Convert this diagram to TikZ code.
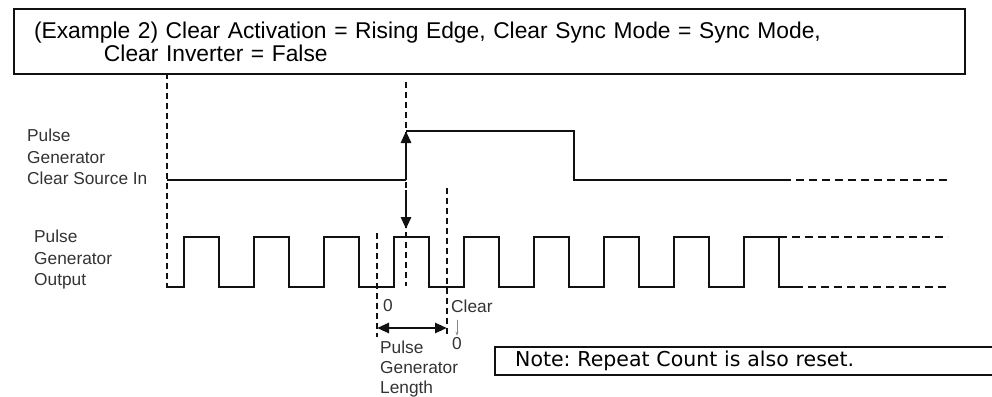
\documentclass[tikz,border=0pt]{standalone}
\usepackage{fontspec}
\setmainfont{Liberation Sans}
\newfontfamily\notefont{DejaVu Sans}
\usetikzlibrary{arrows.meta}
\definecolor{labelcol}{HTML}{333333}
\definecolor{inkcol}{HTML}{111111}
\frenchspacing

\begin{document}
\begin{tikzpicture}[
  x=1pt, y=-1pt,
  wave/.style={line width=2.8pt, draw=inkcol},
  guide/.style={dash pattern=on 6pt off 4pt, line width=2pt, draw=inkcol},
  cont/.style={dash pattern=on 8pt off 5pt, line width=2.5pt, draw=inkcol},
  arr/.style={-{Triangle[length=12pt,width=10pt]}, line width=2.8pt, draw=inkcol},
  dbl/.style={{Triangle[length=12pt,width=10pt]}-{Triangle[length=12pt,width=10pt]},
              line width=2.5pt, draw=inkcol},
  sig/.style={font=\fontsize{17.3}{21.5}\selectfont, text=labelcol, align=left,
              inner sep=0pt},
  titlebox/.style={draw=inkcol, line width=2pt, minimum width=951pt,
              minimum height=65pt, text width=911pt, inner xsep=20pt, align=left,
              font=\fontsize{22.8}{23}\selectfont},
  notebox/.style={draw=inkcol, line width=2.4pt, minimum height=28pt,
              text width=480pt, inner xsep=20pt, align=left,
              font=\notefont\fontsize{20.5}{22}\selectfont},
]
\useasboundingbox (0,0) rectangle (992,396);

% ------------------------------------------------------------- title
\node[titlebox, anchor=north west] (title) at (13,8)
  {(Example 2) Clear Activation = Rising Edge, Clear Sync Mode = Sync Mode,\\
   \hspace*{70pt}Clear Inverter = False};

% ------------------------------------------------------------- signal names
\node[sig, anchor=west] (clrin) at (27,157)
  {Pulse\\Generator\\Clear Source In};
\node[sig, anchor=west] (pgout) at (34,260)
  {Pulse\\Generator\\Output};

% ------------------------------------------------------------- guides
\draw[guide] (167,73)  -- (167,288);
\draw[guide, line width=1.4pt] (406,82) -- (406,286);
\draw[guide] (377,233) -- (377,337);
\draw[guide] (447,188) -- (447,337);

% ------------------------------------------------------------- clear source in
\coordinate (edgelo) at (406,180);
\coordinate (edgehi) at (406,131);
\draw[wave] (167,180) -- (edgelo);
\draw[arr]  (edgelo) -- (edgehi);
\draw[wave] (edgehi) -- (574,131) -- (574,180) -- (783,180);
\draw[cont] (783,180) -- (948,180);

% sync point
\coordinate (synctop) at (406,190);
\coordinate (syncbot) at (406,229);
\draw[arr] (synctop) -- (syncbot);

% ------------------------------------------------------------- output
\draw[wave] (167,287)
  foreach \i in {0,...,8} {
    -- ({184+70*\i},287) -- ({184+70*\i},237)
    -- ({219+70*\i},237) -- ({219+70*\i},287)}
  -- (795,287);
\draw[cont] (779,237) -- (948,237);
\draw[cont] (795,287) -- (950,287);

% ------------------------------------------------------------- length
\node[sig, anchor=west] (zeroa) at (383,306) {0};
\node[sig, anchor=west] (clr)   at (451,306) {Clear};
\node[sig] (zerob) at (457,344) {0};
\draw[-{Stealth[length=4pt]}, line width=0.6pt, labelcol!60]
  ([yshift=-7pt]clr.south -| zerob.north) -- ([yshift=2pt]zerob.north);

\coordinate (lena) at (377,328);
\coordinate (lenb) at (447,328);
\draw[dbl] (lena) -- (lenb);

\node[sig, anchor=north west, font=\fontsize{17.3}{20}\selectfont] (lenlbl) at (380,341)
  {Pulse\\Generator\\Length};

% ------------------------------------------------------------- note
\node[notebox, anchor=north west] (note) at (494,346)
  {Note: Repeat Count is also reset.};

\end{tikzpicture}
\end{document}
